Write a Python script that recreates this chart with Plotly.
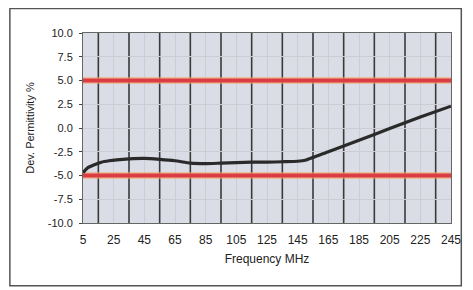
import plotly.graph_objects as go

freq = [5, 8, 12, 17, 22, 27, 35, 45, 55, 65, 75, 85, 95, 105, 115, 125, 135, 145, 150, 165, 185, 205, 225, 245]
dev = [-4.7, -4.2, -3.9, -3.6, -3.45, -3.35, -3.25, -3.2, -3.3, -3.45, -3.7, -3.75, -3.7, -3.65,
       -3.6, -3.6, -3.55, -3.5, -3.4, -2.5, -1.3, -0.05, 1.15, 2.3]
limit_x = [5, 245]
upper_limit = [5, 5]
lower_limit = [-5, -5]
x_ticks = [5, 25, 45, 65, 85, 105, 125, 145, 165, 185, 205, 225, 245]
x_dark_grid = [15, 35, 55, 75, 95, 115, 135, 155, 175, 195, 215, 235]
y_ticks = [10, 7.5, 5, 2.5, 0, -2.5, -5, -7.5, -10]
y_labels = ["10.0", "7.5", "5.0", "2.5", "0.0", "-2.5", "-5.0", "-7.5", "-10.0"]

fig = go.Figure()
for lim in (upper_limit, lower_limit):
    fig.add_trace(go.Scatter(x=limit_x, y=lim, mode="lines",
                             line=dict(color="rgba(245,165,110,0.6)", width=7),
                             hoverinfo="skip", showlegend=False))
    fig.add_trace(go.Scatter(x=limit_x, y=lim, mode="lines",
                             line=dict(color="#db3c42", width=4),
                             showlegend=False))
fig.add_trace(go.Scatter(x=freq, y=dev, mode="lines",
                         line=dict(color="#2a2a2a", width=3.2, shape="spline", smoothing=0.4),
                         showlegend=False))

shapes = [dict(type="line", xref="x", yref="paper", x0=gx, x1=gx, y0=0, y1=1,
               line=dict(color="#3a3a3a", width=1.6), layer="between") for gx in x_dark_grid]
shapes.append(dict(type="rect", xref="paper", yref="paper", x0=-0.1987, x1=1.028, y0=-0.33, y1=1.129,
                   line=dict(color="#555", width=1.5), fillcolor="rgba(0,0,0,0)", layer="below"))

font = "Liberation Sans, Arial, sans-serif"
fig.update_layout(
    width=465, height=282,
    margin=dict(l=75, r=15, t=25, b=67),
    paper_bgcolor="white",
    plot_bgcolor="#dadde5",
    font=dict(family=font, color="#222", size=11),
    xaxis=dict(range=[5, 245], tickvals=x_ticks, ticktext=[str(v) for v in x_ticks],
               tickfont=dict(size=12), ticks="outside", ticklen=6, tickcolor="rgba(0,0,0,0)",
               showgrid=True, gridcolor="#cbcdd5", gridwidth=1,
               showline=True, linecolor="#666", linewidth=1, mirror=True, zeroline=False,
               title=dict(text="Frequency MHz", font=dict(size=12), standoff=8)),
    yaxis=dict(range=[-10, 10], tickvals=y_ticks, ticktext=y_labels, tickfont=dict(size=11),
               ticks="outside", ticklen=3, tickcolor="#444", ticklabelstandoff=4,
               showgrid=True, gridcolor="#cbcdd5", gridwidth=1,
               showline=True, linecolor="#666", linewidth=1, mirror=True, zeroline=False,
               title=dict(text="Dev. Permittivity %", font=dict(size=11), standoff=10)),
    shapes=shapes,
)
fig.write_html("out.html")
